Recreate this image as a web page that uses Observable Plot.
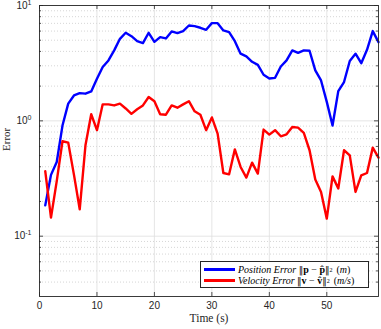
<!DOCTYPE html>
<html><head><meta charset="utf-8">
<script src="https://cdn.jsdelivr.net/npm/d3@7"></script>
<script src="https://cdn.jsdelivr.net/npm/@observablehq/plot@0.6"></script>
<style>
body{margin:0;background:#fff;}
#wrap{position:relative;width:381px;height:329px;overflow:hidden;}
.leg{position:absolute;left:200px;top:261px;width:169px;height:27px;border:1px solid #262626;background:#fff;box-sizing:border-box;font-family:"Liberation Serif","DejaVu Serif",serif;font-size:10px;color:#000;}
.row{position:absolute;left:3px;height:11px;display:flex;align-items:center;white-space:nowrap;}
.sw{display:inline-block;width:31px;height:2.5px;margin-right:3px;}
.it{font-style:italic;}
.bf{font-weight:bold;font-style:normal;}
.nm{font-family:"DejaVu Serif",serif;font-size:9px;}
.op{margin:0 2.5px;}
.pr{margin-left:4px;}
sub{font-size:6px;vertical-align:-2px;}
</style></head><body><div id="wrap"></div>
<script>
const time = [1,2,3,4,5,6,7,8,9,10,11,12,13,14,15,16,17,18,19,20,21,22,23,24,25,26,27,28,29,30,31,32,33,34,35,36,37,38,39,40,41,42,43,44,45,46,47,48,49,50,51,52,53,54,55,56,57,58,59];
const positionError = [0.185,0.34,0.44,0.91,1.41,1.66,1.74,1.72,1.80,2.32,2.93,3.34,4.08,5.14,5.80,5.42,4.91,4.72,5.80,4.84,5.32,5.18,5.96,5.76,6.00,6.71,6.62,6.41,6.16,7.03,7.03,6.08,5.88,4.91,3.82,3.62,3.25,3.06,2.51,2.33,2.36,2.96,3.34,4.08,3.89,4.08,4.05,2.74,2.24,1.46,0.91,1.81,2.17,3.30,3.82,3.16,4.13,6.00,4.81];
const velocityError = [0.366,0.145,0.30,0.665,0.647,0.34,0.171,0.614,1.14,0.83,1.39,1.39,1.36,1.41,1.28,1.15,1.26,1.36,1.61,1.48,1.14,1.13,1.36,1.30,1.39,1.48,1.21,1.13,0.83,1.07,0.774,0.353,0.344,0.566,0.398,0.322,0.434,0.349,0.84,0.76,0.83,0.735,0.764,0.885,0.873,0.786,0.556,0.310,0.242,0.142,0.330,0.259,0.556,0.502,0.242,0.337,0.353,0.586,0.480];
const xTicks = [0,10,20,30,40,50];
const yTicks = [0.1,1,10];
const yMinor = [0.04,0.05,0.06,0.07,0.08,0.09,0.2,0.3,0.4,0.5,0.6,0.7,0.8,0.9,2,3,4,5,6,7,8,9];
const xLabel = "Time (s)";
const yLabel = "Error";

const W = 381, H = 329, mL = 39, mT = 5, mR = 3, mB = 33;
const pw = W - mL - mR, ph = H - mT - mB;
const pos = time.map((t, i) => ({t, v: positionError[i]}));
const vel = time.map((t, i) => ({t, v: velocityError[i]}));
const axc = "#262626";
const sans = "'Liberation Sans', Arial, sans-serif";

const chart = Plot.plot({
  width: W, height: H,
  marginLeft: mL, marginTop: mT, marginRight: mR, marginBottom: mB,
  style: {fontFamily: sans, fontSize: "10px", color: axc, background: "#fff", overflow: "visible"},
  x: {domain: [0, 59], axis: null},
  y: {type: "log", domain: [0.03, 10], axis: null},
  marks: [
    Plot.ruleY(yMinor, {stroke: "#c4c4c4", strokeDasharray: "1,2", strokeWidth: 0.7}),
    Plot.ruleY(yTicks, {stroke: "#dedede", strokeWidth: 0.8}),
    Plot.ruleX(xTicks.slice(1), {stroke: "#dedede", strokeWidth: 0.8}),
    Plot.line(pos, {x: "t", y: "v", stroke: "#0000ff", strokeWidth: 2.4, strokeLinejoin: "round"}),
    Plot.line(vel, {x: "t", y: "v", stroke: "#ff0000", strokeWidth: 2.4, strokeLinejoin: "round"}),
    Plot.tickX(xTicks, {insetTop: ph - 4, stroke: axc, strokeWidth: 0.8}),
    Plot.tickX(xTicks, {insetBottom: ph - 4, stroke: axc, strokeWidth: 0.8}),
    Plot.tickY(yTicks, {insetRight: pw - 4, stroke: axc, strokeWidth: 0.8}),
    Plot.tickY(yTicks, {insetLeft: pw - 4, stroke: axc, strokeWidth: 0.8}),
    Plot.tickY(yMinor, {insetRight: pw - 2, stroke: axc, strokeWidth: 0.8}),
    Plot.tickY(yMinor, {insetLeft: pw - 2, stroke: axc, strokeWidth: 0.8}),
    Plot.frame({stroke: axc, strokeWidth: 0.9}),
    Plot.text(xTicks, {x: d => d, frameAnchor: "bottom", dy: 12, text: d => String(d), fill: axc, fontSize: 10}),
    Plot.text(yTicks, {y: d => d, frameAnchor: "left", dx: -8, textAnchor: "end", text: d => "10^" + Math.round(Math.log10(d)), fill: axc, fontSize: 10}),
    Plot.text([xLabel], {frameAnchor: "bottom", dy: 25, fontFamily: "'Liberation Serif', serif", fontSize: 11.5, fill: axc}),
    Plot.text([yLabel], {frameAnchor: "left", dx: -33.5, rotate: -90, fontFamily: "'Liberation Serif', serif", fontSize: 11, fill: axc})
  ]
});

const ns = "http://www.w3.org/2000/svg";
chart.querySelectorAll("text").forEach(t => {
  const m = /^10\^(-?\d+)$/.exec(t.textContent);
  if (m) {
    t.textContent = "10";
    const s = document.createElementNS(ns, "tspan");
    s.setAttribute("dy", "-4");
    s.setAttribute("font-size", "7");
    s.textContent = m[1];
    t.appendChild(s);
  }
});

const wrap = document.getElementById("wrap");
wrap.appendChild(chart);
const leg = document.createElement("div");
leg.className = "leg";
leg.innerHTML =
  '<div class="row" style="top:2px"><span class="sw" style="background:#0000ff"></span>' +
  '<span class="it">Position Error</span>&nbsp;<span class="nm">‖</span><span class="bf">p</span><span class="op">−</span><span class="bf">p̂</span><span class="nm">‖</span><sub>2</sub><span class="pr">(</span><span class="it">m</span>)</div>' +
  '<div class="row" style="top:13px"><span class="sw" style="background:#ff0000"></span>' +
  '<span class="it">Velocity Error</span>&nbsp;<span class="nm">‖</span><span class="bf">v</span><span class="op">−</span><span class="bf">v̂</span><span class="nm">‖</span><sub>2</sub><span class="pr">(</span><span class="it">m/s</span>)</div>';
wrap.appendChild(leg);
</script>
</body></html>
